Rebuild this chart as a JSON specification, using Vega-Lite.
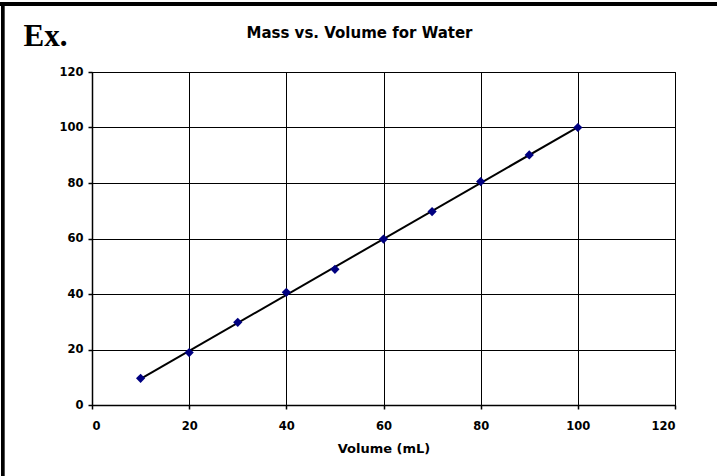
{
  "$schema": "https://vega.github.io/schema/vega-lite/v6.json",
  "width": 583,
  "height": 333,
  "autosize": "none",
  "padding": {"left": 92, "top": 72, "right": 42, "bottom": 71},
  "background": "white",
  "title": {
    "text": "Mass vs. Volume for Water",
    "font": "DejaVu Sans",
    "fontSize": 15,
    "fontWeight": "bold",
    "color": "black",
    "anchor": "middle",
    "frame": "group",
    "dx": -24,
    "offset": -38
  },
  "config": {
    "view": {"stroke": "black", "strokeWidth": 1},
    "axis": {
      "grid": true,
      "gridColor": "black",
      "gridOpacity": 1,
      "gridWidth": 1,
      "domainColor": "black",
      "domainWidth": 1.5,
      "tickColor": "black",
      "tickSize": 4,
      "tickWidth": 1.5,
      "labelFont": "DejaVu Sans",
      "labelFontWeight": "bold",
      "labelFontSize": 11.5,
      "labelColor": "black",
      "titleColor": "black"
    }
  },
  "data": {
    "values": [
      {"volume": 10, "mass": 9.6},
      {"volume": 20, "mass": 18.9},
      {"volume": 30, "mass": 29.8},
      {"volume": 40, "mass": 40.6},
      {"volume": 50, "mass": 48.9},
      {"volume": 60, "mass": 59.8},
      {"volume": 70, "mass": 69.7},
      {"volume": 80, "mass": 80.5},
      {"volume": 90, "mass": 90.1},
      {"volume": 100, "mass": 100}
    ]
  },
  "layer": [
    {
      "transform": [{"regression": "mass", "on": "volume"}],
      "mark": {"type": "line", "color": "black", "strokeWidth": 2},
      "encoding": {
        "x": {
          "field": "volume",
          "type": "quantitative",
          "scale": {"domain": [0, 120], "nice": false},
          "axis": {
            "values": [0, 20, 40, 60, 80, 100, 120],
            "labelPadding": 11,
            "title": "Volume (mL)",
            "titleFont": "DejaVu Sans",
            "titleFontSize": 13,
            "titleFontWeight": "bold",
            "titlePadding": 11
          }
        },
        "y": {
          "field": "mass",
          "type": "quantitative",
          "scale": {"domain": [0, 120], "nice": false},
          "axis": {
            "values": [0, 20, 40, 60, 80, 100, 120],
            "labelPadding": 5,
            "title": "Ex.",
            "titleFont": "Liberation Serif",
            "titleFontSize": 31,
            "titleFontWeight": "bold",
            "titleAngle": 0,
            "titleAlign": "left",
            "titleBaseline": "alphabetic",
            "titleX": -69,
            "titleY": -27
          }
        }
      }
    },
    {
      "mark": {"type": "point", "shape": "diamond", "filled": true, "color": "#000080", "opacity": 1, "size": 85},
      "encoding": {
        "x": {"field": "volume", "type": "quantitative", "scale": {"domain": [0, 120], "nice": false}},
        "y": {"field": "mass", "type": "quantitative", "scale": {"domain": [0, 120], "nice": false}}
      }
    },
    {
      "mark": {"type": "rule", "clip": false, "color": "black", "strokeWidth": 3},
      "encoding": {
        "x": {"datum": -18.4, "type": "quantitative", "scale": {"domain": [0, 120], "nice": false}},
        "y": {"datum": -30, "type": "quantitative", "scale": {"domain": [0, 120], "nice": false}},
        "y2": {"datum": 144.5}
      }
    },
    {
      "mark": {"type": "rule", "clip": false, "color": "black", "strokeWidth": 3},
      "encoding": {
        "x": {"datum": -19, "type": "quantitative", "scale": {"domain": [0, 120], "nice": false}},
        "x2": {"datum": 135},
        "y": {"datum": 144.5, "type": "quantitative", "scale": {"domain": [0, 120], "nice": false}}
      }
    }
  ]
}
